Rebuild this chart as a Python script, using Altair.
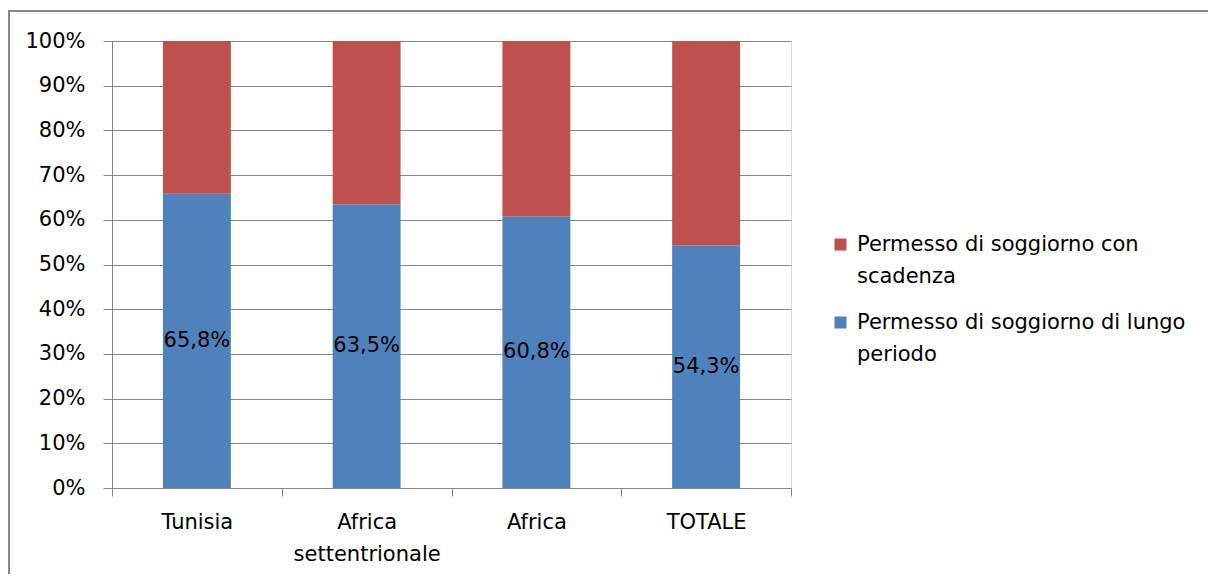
import altair as alt
import pandas as pd

# Share of residence permits by type, per area (percent)
areas = ["Tunisia", "Africa settentrionale", "Africa", "TOTALE"]
lungo_periodo = [65.8, 63.5, 60.8, 54.3]
con_scadenza = [34.2, 36.5, 39.2, 45.7]

series_lungo = "Permesso di soggiorno di lungo periodo"
series_scad = "Permesso di soggiorno con scadenza"

rows = []
for a, v in zip(areas, lungo_periodo):
    rows.append({"area": a, "serie": series_lungo, "valore": v, "ordine": 0})
for a, v in zip(areas, con_scadenza):
    rows.append({"area": a, "serie": series_scad, "valore": v, "ordine": 1})
df = pd.DataFrame(rows)

FONT = "DejaVu Sans"
FS = 21
GREY = "#868686"

x_enc = alt.X(
    "area:N",
    sort=areas,
    title=None,
    scale=alt.Scale(paddingInner=0, paddingOuter=0),
    axis=alt.Axis(
        tickBand="extent",
        labelAngle=0,
        labelFont=FONT,
        labelFontSize=FS,
        labelColor="black",
        labelPadding=15,
        labelLineHeight=32,
        labelExpr="length(datum.label) > 10 ? split(datum.label, ' ') : datum.label",
        tickSize=8,
        tickColor=GREY,
        domainColor=GREY,
        grid=False,
    ),
)

bars = alt.Chart(df).mark_bar(width=alt.RelativeBandSize(0.4)).encode(
    x=x_enc,
    y=alt.Y(
        "valore:Q",
        stack="normalize",
        title=None,
        scale=alt.Scale(domain=[0, 1]),
        axis=alt.Axis(
            format=".0%",
            values=[i / 10 for i in range(11)],
            labelFont=FONT,
            labelFontSize=FS,
            labelColor="black",
            labelPadding=18,
            tickSize=9,
            tickColor=GREY,
            domainColor=GREY,
            gridColor=GREY,
            grid=True,
        ),
    ),
    color=alt.Color(
        "serie:N",
        scale=alt.Scale(domain=[series_scad, series_lungo], range=["#C0504D", "#4F81BD"]),
        legend=alt.Legend(
            title=None,
            orient="none",
            legendX=718,
            legendY=193,
            symbolType="square",
            symbolSize=144,
            symbolStrokeWidth=0,
            symbolOpacity=1,
            labelFont=FONT,
            labelFontSize=FS,
            labelColor="black",
            labelOffset=6,
            labelLimit=400,
            labelExpr="datum.label == '" + series_scad + "' ? ['Permesso di soggiorno con', 'scadenza'] : ['Permesso di soggiorno di lungo', 'periodo']",
            rowPadding=24,
            padding=0,
        ),
    ),
    order=alt.Order("ordine:Q"),
)

labels = alt.Chart(df).transform_filter(
    alt.datum.serie == series_lungo
).transform_calculate(
    meta="datum.valore / 200",
    testo="replace(format(datum.valore / 100, '.1%'), '.', ',')",
).mark_text(font=FONT, fontSize=FS, color="black").encode(
    x=alt.X("area:N", sort=areas),
    y=alt.Y("meta:Q"),
    text="testo:N",
)

# Outer chart frame: top and left edges
frame_data = pd.DataFrame({"k": [0]})
frame_top = alt.Chart(frame_data).mark_rule(color="#888888", strokeWidth=2).encode(
    x=alt.value(-104), x2=alt.value(1200), y=alt.value(-30)
)
frame_left = alt.Chart(frame_data).mark_rule(color="#888888", strokeWidth=2).encode(
    x=alt.value(-103), y=alt.value(-31), y2=alt.value(600)
)

chart = alt.layer(frame_top, frame_left, bars, labels).properties(
    width=679,
    height=447,
    autosize="none",
    padding={"left": 112, "top": 41, "right": 417, "bottom": 86},
).configure_view(stroke=None).configure(
    background="white",
    style={"guide-label": {"lineHeight": 32}},
)

chart.save("out.html", embed_options={"renderer": "svg", "actions": False})
